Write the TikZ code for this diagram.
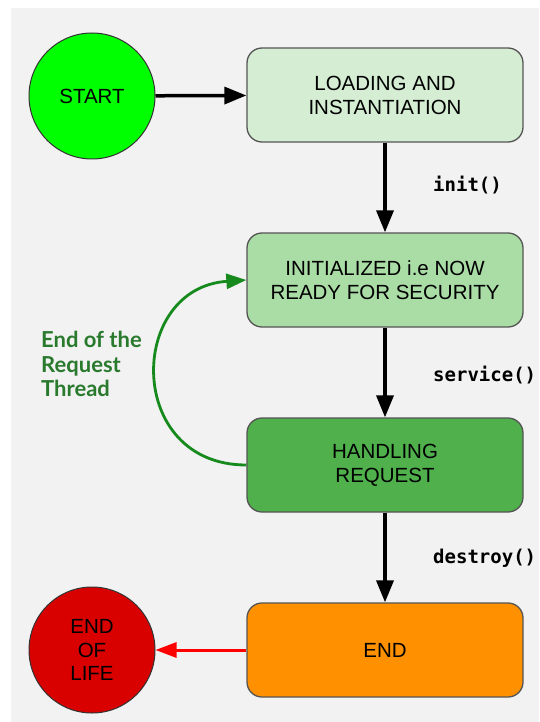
\documentclass[tikz,border=0pt]{standalone}
\usepackage{fontspec}
\setmainfont{Liberation Sans}
\newfontfamily\monofnt{DejaVu Sans Mono}
\newfontfamily\latofnt{Lato}
\usetikzlibrary{arrows.meta}
\definecolor{bggray}{HTML}{F2F2F2}
\definecolor{startgreen}{HTML}{00FF00}
\definecolor{loadfill}{HTML}{D5EED3}
\definecolor{initfill}{HTML}{AADCA6}
\definecolor{handfill}{HTML}{4FB04C}
\definecolor{endfill}{HTML}{FF9100}
\definecolor{eolfill}{HTML}{D90000}
\definecolor{loopgreen}{HTML}{178A1E}
\definecolor{labelgreen}{HTML}{2A7A2E}
\definecolor{boxborder}{HTML}{555555}
\tikzset{
  statebox/.style={draw=boxborder, line width=1.3pt, rounded corners=15pt,
    minimum width=276pt, minimum height=94pt, align=center, inner sep=0pt,
    font=\fontsize{20.5}{24}\selectfont},
  termcircle/.style={draw=black!80, line width=1pt, circle, minimum size=126pt,
    align=center, inner sep=0pt, font=\fontsize{20.5}{23.5}\selectfont},
  flowarrow/.style={line width=3.5pt, -{Triangle[length=22pt,width=17pt]}},
  methodlabel/.style={anchor=west, inner sep=0pt, font=\monofnt\bfseries\fontsize{19}{22}\selectfont}
}
\begin{document}
\begin{tikzpicture}[x=1pt,y=-1pt]
\useasboundingbox (0,0) rectangle (539,722);
\fill[bggray] (11,8) rectangle (539,722);

\node[termcircle, fill=startgreen] (start) at (92,96) {START};
\node[statebox, fill=loadfill] (load) at (385,95) {LOADING AND\\INSTANTIATION};
\node[statebox, fill=initfill] (init) at (385,280) {INITIALIZED i.e NOW\\READY FOR SECURITY};
\node[statebox, fill=handfill] (hand) at (385,465) {HANDLING\\REQUEST};
\node[statebox, fill=endfill] (end) at (385,650) {END};
\node[termcircle, fill=eolfill] (eol) at (92,650) {END\\OF\\LIFE};

\draw[flowarrow] (start) -- (load);
\draw[flowarrow] (load) -- (init);
\draw[flowarrow] (init) -- (hand);
\draw[flowarrow] (hand) -- (end);
\draw[line width=3pt, red, -{Triangle[length=21pt,width=15pt]}] (end) -- (eol);

\draw[loopgreen, line width=2.8pt, -{Triangle[length=20pt,width=15pt]}]
  (hand.west) .. controls (125,465) and (127,288) .. (init.west);

\node[methodlabel] (linit) at (433,185) {init()};
\node[methodlabel] (lserv) at (433,375) {service()};
\node[methodlabel] (ldest) at (433,558) {destroy()};

\node[anchor=north west, align=left, inner sep=0pt, text=labelgreen,
  font=\latofnt\bfseries\fontsize{22}{24.5}\selectfont] (loopl) at (41,331)
  {End of the\\Request\\Thread};
\end{tikzpicture}
\end{document}
